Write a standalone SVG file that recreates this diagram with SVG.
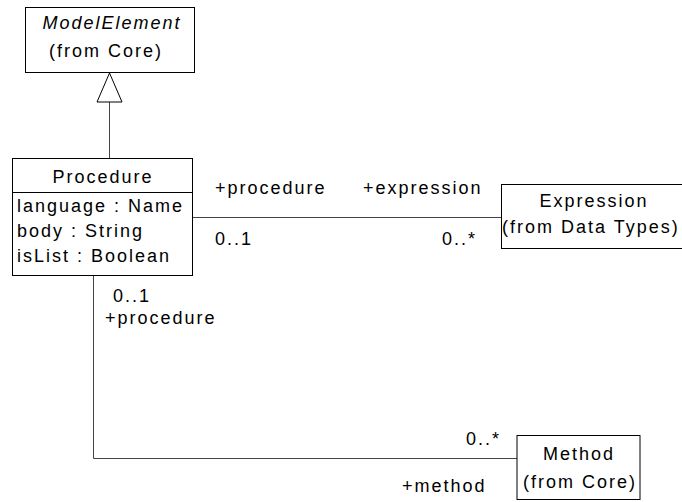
<svg xmlns="http://www.w3.org/2000/svg" width="682" height="502" viewBox="0 0 682 502">
  <style>
    text { font-family: "Liberation Sans", Arial, sans-serif; font-size: 18px; letter-spacing: 2px; fill: #000; }
    .box { fill: #fff; stroke: #000; stroke-width: 1; }
    .line { fill: none; stroke: #444; stroke-width: 1; }
    .mid { text-anchor: middle; }
  </style>
  <rect width="682" height="502" fill="#fff"/>

  <!-- connectors -->
  <g id="connectors">
    <!-- generalization Procedure -> ModelElement -->
    <line class="line" x1="109.5" y1="102" x2="109.5" y2="158"/>
    <polygon points="109.5,73 97,102 122,102" fill="#fff" stroke="#000" stroke-width="1"/>
    <!-- Procedure - Expression association -->
    <line class="line" x1="193" y1="217.5" x2="501" y2="217.5"/>
    <!-- Procedure - Method association -->
    <polyline class="line" points="93.5,276 93.5,458.5 517,458.5"/>
  </g>

  <!-- association end labels -->
  <g id="labels">
    <text x="215" y="194">+procedure</text>
    <text x="363" y="194">+expression</text>
    <text x="215" y="245">0..1</text>
    <text x="442" y="245">0..*</text>
    <text x="113" y="302">0..1</text>
    <text x="105" y="324">+procedure</text>
    <text x="466" y="445">0..*</text>
    <text x="402" y="492">+method</text>
  </g>

  <g id="ModelElement">
    <rect class="box" x="25.5" y="7.5" width="169" height="65"/>
    <text class="mid" x="112" y="29" font-style="italic">ModelElement</text>
    <text class="mid" x="106" y="57">(from Core)</text>
  </g>

  <g id="Procedure">
    <rect class="box" x="12.5" y="158.5" width="180" height="117"/>
    <line x1="12.5" y1="192.5" x2="192.5" y2="192.5" stroke="#000" stroke-width="1"/>
    <text class="mid" x="103" y="183">Procedure</text>
    <text x="17" y="212">language : Name</text>
    <text x="17" y="237">body : String</text>
    <text x="17" y="262">isList : Boolean</text>
  </g>

  <g id="Expression">
    <rect class="box" x="501.5" y="184.5" width="184" height="64"/>
    <text class="mid" x="594" y="207">Expression</text>
    <text x="502" y="233">(from Data Types)</text>
  </g>

  <g id="Method">
    <rect class="box" x="517" y="435.5" width="123" height="64"/>
    <text class="mid" x="579" y="460">Method</text>
    <text class="mid" x="580" y="488">(from Core)</text>
  </g>
</svg>
